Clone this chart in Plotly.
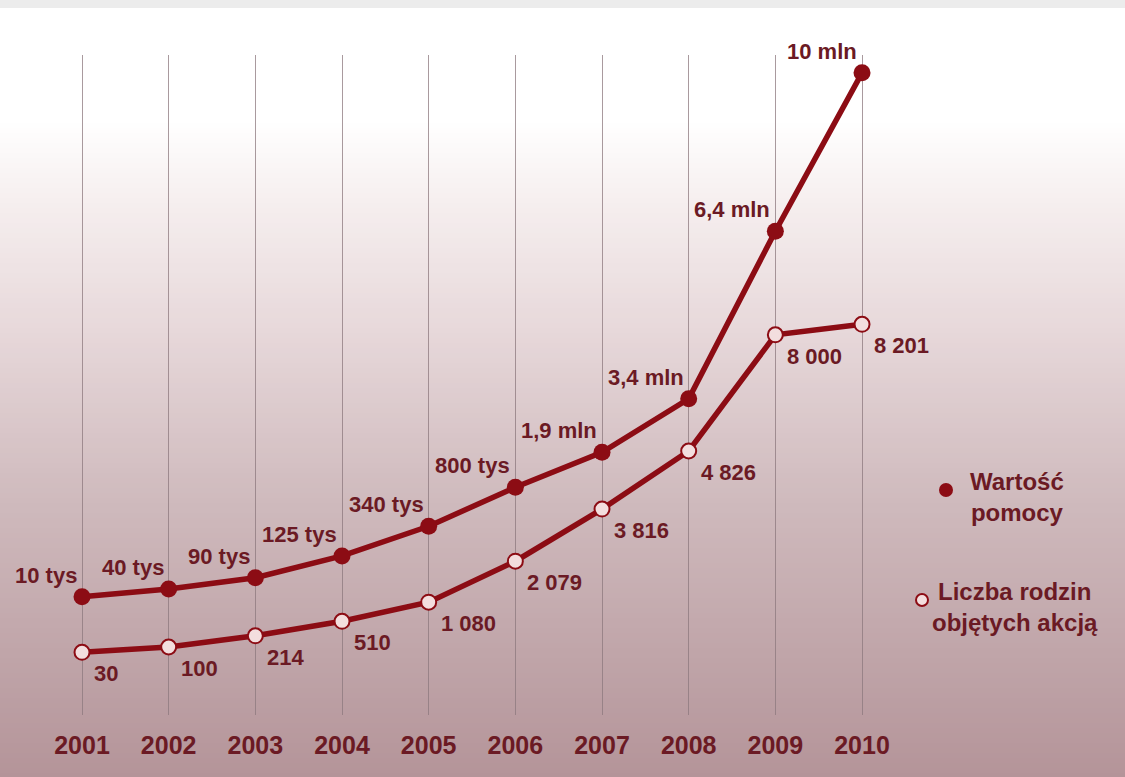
import plotly.graph_objects as go

# ---- data ----
years = [2001, 2002, 2003, 2004, 2005, 2006, 2007, 2008, 2009, 2010]
year_labels = [str(y) for y in years]

# Wartość pomocy: label texts and the height at which each point is drawn (chart units 0-100)
wartosc_labels = ["10 tys", "40 tys", "90 tys", "125 tys", "340 tys", "800 tys",
                  "1,9 mln", "3,4 mln", "6,4 mln", "10 mln"]
wartosc_level = [17.9, 19.1, 20.8, 24.1, 28.6, 34.5, 39.8, 47.9, 73.3, 97.3]

# Liczba rodzin objętych akcją
rodziny_labels = ["30", "100", "214", "510", "1 080", "2 079", "3 816", "4 826", "8 000", "8 201"]
rodziny_level = [9.5, 10.3, 12.0, 14.2, 17.1, 23.3, 31.2, 40.0, 57.6, 59.2]

series_names = ["Wartość<br>pomocy", "Liczba rodzin<br>objętych akcją"]

# ---- styling ----
W, H = 1125, 777
TOP, BOT = 55, 715  # plot area pixel rows
LINE = "#8c0c14"
TXT = "#6b1a24"
FONT = "Liberation Sans, Arial, sans-serif"


def py2paper(py):
    return (BOT - py) / (BOT - TOP)


def px2paper(px):
    return px / W


shapes = []
# background vertical gradient (bands)
stops = [(8, (255, 255, 255)), (120, (255, 255, 255)), (200, (246, 239, 239)),
         (330, (231, 216, 218)), (500, (207, 186, 189)), (777, (180, 148, 153))]


def col_at(p):
    for (a, ca), (b, cb) in zip(stops[:-1], stops[1:]):
        if a <= p <= b:
            t = (p - a) / (b - a)
            return tuple(round(ca[i] + (cb[i] - ca[i]) * t) for i in range(3))
    return stops[-1][1]


step = 5
p = 8
while p < H:
    c = col_at(p + step / 2)
    shapes.append(dict(type="rect", xref="paper", yref="paper", layer="below",
                       x0=-0.01, x1=1.01, y0=py2paper(min(p + step + 1, H + 2)), y1=py2paper(p),
                       fillcolor="rgb(%d,%d,%d)" % c, line=dict(width=0)))
    p += step
# thin grey strip at the very top
shapes.append(dict(type="rect", xref="paper", yref="paper", layer="below",
                   x0=-0.01, x1=1.01, y0=py2paper(8), y1=py2paper(-2),
                   fillcolor="#ececec", line=dict(width=0)))

# legend symbols
shapes.append(dict(type="circle", xref="paper", yref="paper",
                   x0=px2paper(939), x1=px2paper(953), y0=py2paper(497), y1=py2paper(483),
                   fillcolor=LINE, line=dict(width=0)))
shapes.append(dict(type="circle", xref="paper", yref="paper",
                   x0=px2paper(916), x1=px2paper(928), y0=py2paper(606), y1=py2paper(594),
                   fillcolor="#f3dede", line=dict(color=LINE, width=2)))

label_font = dict(family=FONT, size=22, color=TXT, weight="bold")
legend_font = dict(family=FONT, size=24, color=TXT, weight="bold")
annotations = [
    dict(xref="paper", yref="paper", x=px2paper(1017), y=py2paper(497), text=series_names[0],
         showarrow=False, align="center", xanchor="center", yanchor="middle", font=legend_font),
    dict(xref="paper", yref="paper", x=px2paper(1015), y=py2paper(607), text=series_names[1],
         showarrow=False, align="center", xanchor="center", yanchor="middle", font=legend_font),
]
# value labels attached to the data points
for xv, yv, t in zip(years, wartosc_level, wartosc_labels):
    annotations.append(dict(x=xv, y=yv, xref="x", yref="y", text=t, showarrow=False,
                            xanchor="right", yanchor="bottom", xshift=-3, yshift=7,
                            font=label_font))
for xv, yv, t in zip(years, rodziny_level, rodziny_labels):
    annotations.append(dict(x=xv, y=yv, xref="x", yref="y", text=t, showarrow=False,
                            xanchor="left", yanchor="top", xshift=10, yshift=-7,
                            font=label_font))

fig = go.Figure()
fig.add_trace(go.Scatter(
    x=years, y=rodziny_level, mode="lines+markers", cliponaxis=False,
    name="Liczba rodzin objętych akcją",
    line=dict(color=LINE, width=5.5),
    marker=dict(size=15, color="#f3dede", line=dict(color=LINE, width=2)),
    showlegend=False))
fig.add_trace(go.Scatter(
    x=years, y=wartosc_level, mode="lines+markers", cliponaxis=False,
    name="Wartość pomocy",
    line=dict(color=LINE, width=5.5),
    marker=dict(size=17, color=LINE),
    showlegend=False))

x0 = years[0] - 82 / 86.67
x1 = years[0] + (W - 82) / 86.67
fig.update_layout(
    width=W, height=H,
    margin=dict(l=0, r=0, t=TOP, b=H - BOT),
    paper_bgcolor="white", plot_bgcolor="rgba(0,0,0,0)",
    shapes=shapes, annotations=annotations,
    xaxis=dict(range=[x0, x1], tickvals=years, ticktext=year_labels,
               showgrid=True, gridcolor="rgba(140,120,125,0.75)", gridwidth=1,
               zeroline=False, showline=False, ticks="", ticklabelstandoff=13,
               tickfont=dict(family=FONT, size=25, color=TXT, weight="bold"), fixedrange=True),
    yaxis=dict(range=[0, 100], showgrid=False, zeroline=False, showticklabels=False,
               showline=False, fixedrange=True),
)

fig.write_html("out.html", config={"displayModeBar": False},
               post_script="document.body.style.margin='0';document.body.style.overflow='hidden';")
